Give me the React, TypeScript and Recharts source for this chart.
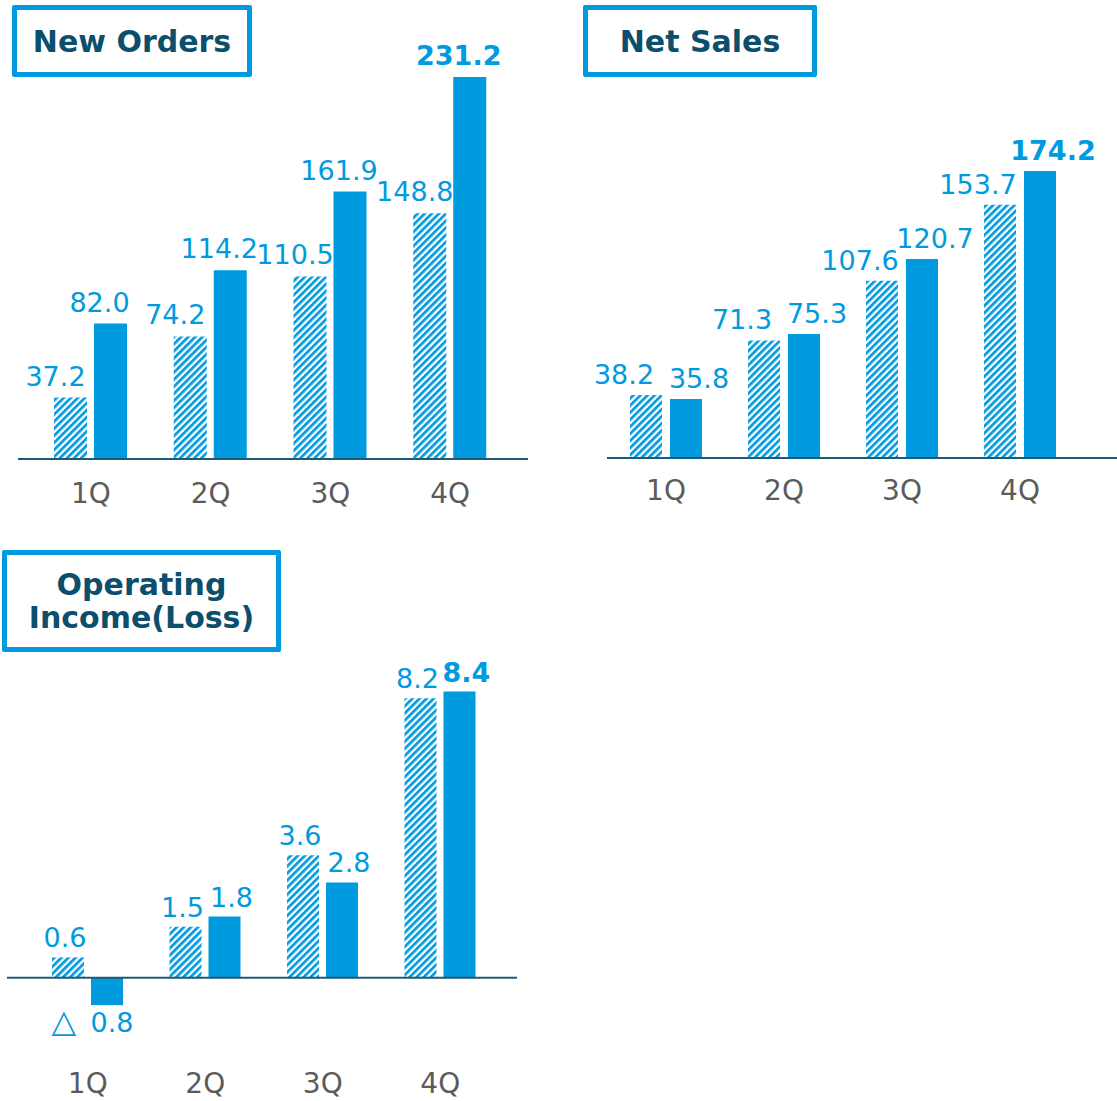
import { BarChart, Bar, XAxis, YAxis, ReferenceLine, LabelList } from "recharts";

const quarters = ["1Q", "2Q", "3Q", "4Q"];
const ordersPrev = [37.2, 74.2, 110.5, 148.8];
const ordersCurr = [82.0, 114.2, 161.9, 231.2];
const salesPrev = [38.2, 71.3, 107.6, 153.7];
const salesCurr = [35.8, 75.3, 120.7, 174.2];
const incomePrev = [0.6, 1.5, 3.6, 8.2];
const incomeCurr = [-0.8, 1.8, 2.8, 8.4];

const BLUE = "#009ade";
const NAVY = "#0b4f6c";
const FONT = "'DejaVu Sans', Verdana, sans-serif";

// value label above (or below, for losses) each bar
function valueLabel(props: any, dx: number, gap: number, highlight: boolean) {
  const vb = props.viewBox ?? props;
  const x = Number(vb.x ?? props.x);
  const y = Number(vb.y ?? props.y);
  const w = Number(vb.width ?? props.width);
  const h = Number(vb.height ?? props.height);
  const value = Number(props.value);
  const cx = x + w / 2 + dx;
  const top = Math.min(y, y + h);
  const bottom = Math.max(y, y + h);
  const bold = highlight && props.index === quarters.length - 1;
  const common = { fill: BLUE, fontSize: 27, fontFamily: FONT };
  if (value < 0) {
    const base = bottom + 27;
    return (
      <g>
        <text x={cx - 38} y={base} textAnchor="end" {...common} fontSize={32}>
          △
        </text>
        <text x={cx - 2} y={base} textAnchor="middle" {...common}>
          {Math.abs(value).toFixed(1)}
        </text>
      </g>
    );
  }
  return (
    <text
      x={cx}
      y={top - gap}
      textAnchor="middle"
      fontWeight={bold ? 700 : 400}
      {...common}
    >
      {value.toFixed(1)}
    </text>
  );
}

interface ChartProps {
  id: string;
  prev: number[];
  curr: number[];
  width: number;
  height: number;
  margin: { top: number; left: number; right: number; bottom: number };
  axisHeight: number;
  domain: [number, number];
  pad: { left: number; right: number };
  barSize: number;
  barGap: number;
  tickMargin: number;
  prevDx: number;
  currDx: number;
  gap: number;
}

function QuarterChart(p: ChartProps) {
  const data = quarters.map((q, i) => ({ q, prev: p.prev[i], curr: p.curr[i] }));
  return (
    <BarChart
      width={p.width}
      height={p.height}
      data={data}
      margin={p.margin}
      barSize={p.barSize}
      barGap={p.barGap}
    >
      <defs>
        <pattern
          id={`hatch-${p.id}`}
          patternUnits="userSpaceOnUse"
          width="5"
          height="5"
          patternTransform="rotate(45)"
        >
          <rect width="5" height="5" fill="#ffffff" />
          <rect width="2.7" height="5" fill={BLUE} />
        </pattern>
      </defs>
      <XAxis
        dataKey="q"
        axisLine={false}
        tickLine={false}
        tickSize={0}
        tickMargin={p.tickMargin}
        height={p.axisHeight}
        interval={0}
        padding={p.pad}
        tick={{ fill: "#5b5b5b", fontSize: 28, fontFamily: FONT }}
      />
      <YAxis hide domain={p.domain} />
      <Bar dataKey="prev" fill={`url(#hatch-${p.id})`} isAnimationActive={false}>
        <LabelList
          dataKey="prev"
          content={(lp: any) => valueLabel(lp, p.prevDx, p.gap, false)}
        />
      </Bar>
      <Bar dataKey="curr" fill={BLUE} isAnimationActive={false}>
        <LabelList
          dataKey="curr"
          content={(lp: any) => valueLabel(lp, p.currDx, p.gap, true)}
        />
      </Bar>
      <ReferenceLine y={0} stroke="#1e5a73" strokeWidth={2} />
    </BarChart>
  );
}

function TitleBox({
  left,
  top,
  width,
  height,
  lines,
}: {
  left: number;
  top: number;
  width: number;
  height: number;
  lines: string[];
}) {
  return (
    <div
      style={{
        position: "absolute",
        left,
        top,
        width,
        height,
        boxSizing: "border-box",
        border: `5px solid ${BLUE}`,
        borderRadius: 2,
        background: "#fff",
        display: "flex",
        flexDirection: "column",
        alignItems: "center",
        justifyContent: "center",
        fontFamily: FONT,
        fontWeight: 700,
        fontSize: 30,
        lineHeight: "33px",
        color: NAVY,
      }}
    >
      {lines.map((l) => (
        <div key={l}>{l}</div>
      ))}
    </div>
  );
}

export default function App() {
  return (
    <div
      style={{
        position: "absolute",
        left: 0,
        top: 0,
        width: 1117,
        height: 1101,
        background: "#fff",
      }}
    >
      <div style={{ position: "absolute", left: 0, top: 0 }}>
        <QuarterChart
          id="orders"
          prev={ordersPrev}
          curr={ordersCurr}
          width={540}
          height={520}
          margin={{ top: 46, left: 18, right: 12, bottom: 0 }}
          axisHeight={61}
          domain={[0, 250]}
          pad={{ left: 13, right: 18 }}
          barSize={33}
          barGap={7}
          tickMargin={24}
          prevDx={-15}
          currDx={-11}
          gap={12}
        />
      </div>
      <div style={{ position: "absolute", left: 560, top: 0 }}>
        <QuarterChart
          id="sales"
          prev={salesPrev}
          curr={salesCurr}
          width={557}
          height={520}
          margin={{ top: 46, left: 47, right: 0, bottom: 0 }}
          axisHeight={62}
          domain={[0, 250]}
          pad={{ left: 0, right: 38 }}
          barSize={32}
          barGap={8}
          tickMargin={22}
          prevDx={-22}
          currDx={13}
          gap={11}
        />
      </div>
      <div style={{ position: "absolute", left: 0, top: 600 }}>
        <QuarterChart
          id="income"
          prev={incomePrev}
          curr={incomeCurr}
          width={530}
          height={501}
          margin={{ top: 54, left: 7, right: 13, bottom: 0 }}
          axisHeight={72}
          domain={[-1.5, 9.5]}
          pad={{ left: 22, right: 18 }}
          barSize={32}
          barGap={7}
          tickMargin={44}
          prevDx={-3}
          currDx={7}
          gap={10}
        />
      </div>
      <TitleBox left={12} top={5} width={240} height={72} lines={["New Orders"]} />
      <TitleBox left={583} top={5} width={234} height={72} lines={["Net Sales"]} />
      <TitleBox
        left={2}
        top={550}
        width={279}
        height={102}
        lines={["Operating", "Income(Loss)"]}
      />
    </div>
  );
}
